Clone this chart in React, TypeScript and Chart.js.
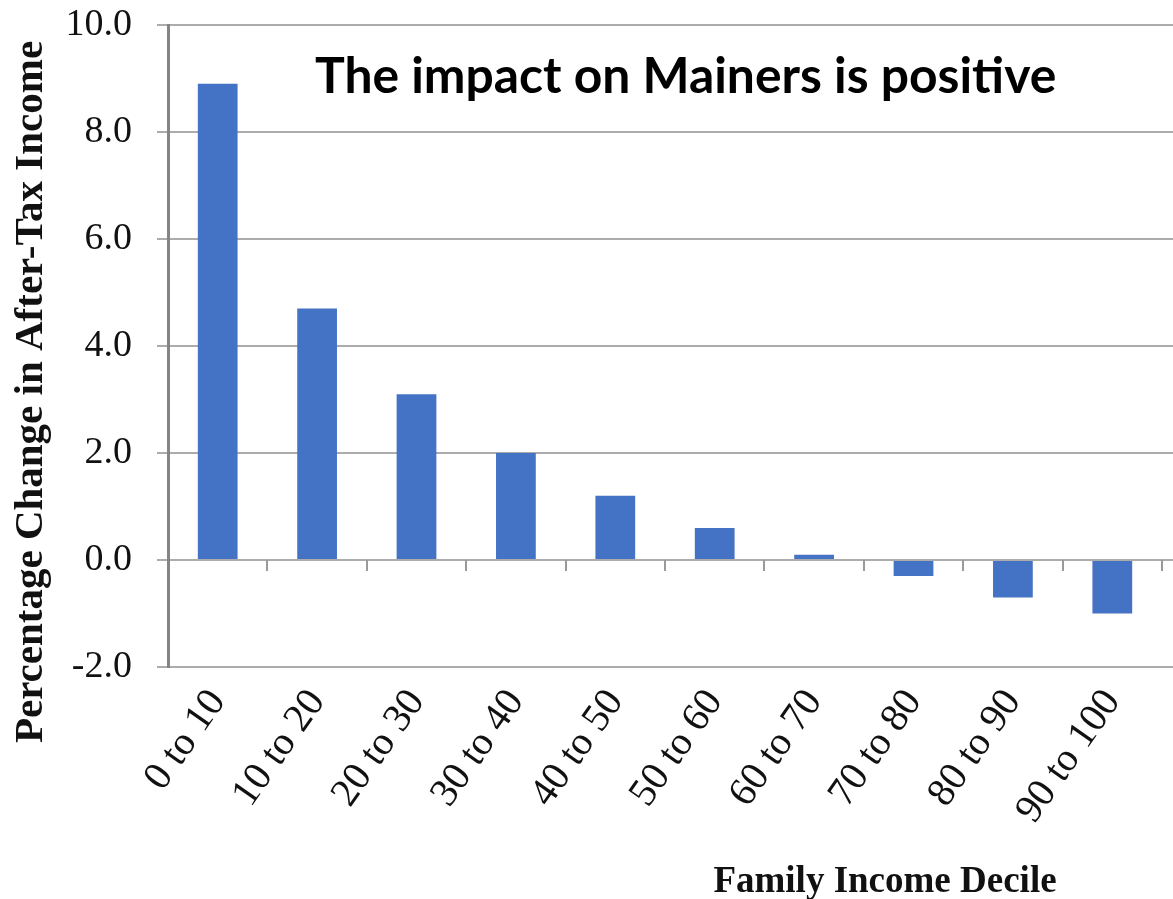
import React, { useEffect, useRef } from 'react';
import { Chart, registerables } from 'chart.js';

Chart.register(...registerables);

const categories = ['0 to 10', '10 to 20', '20 to 30', '30 to 40', '40 to 50', '50 to 60', '60 to 70', '70 to 80', '80 to 90', '90 to 100'];
const values = [8.9, 4.7, 3.1, 2.0, 1.2, 0.6, 0.1, -0.3, -0.7, -1.0];
const yTickValues = [-2, 0, 2, 4, 6, 8, 10];
const chartTitle = 'The impact on Mainers is positive';
const xTitle = 'Family Income Decile';
const yTitle = 'Percentage Change in After-Tax Income';

const GRID = '#acacac';
const AXIS = '#858585';
const BAR = '#4472C4';
const SERIF = '"Liberation Serif", "Times New Roman", serif';

const overlayPlugin = {
  id: 'overlay',
  afterDraw(chart: any) {
    const { ctx, chartArea, scales } = chart;
    const x = scales.x;
    const y = scales.y;
    ctx.save();
    // extend horizontal gridlines past the last category
    ctx.strokeStyle = GRID;
    ctx.lineWidth = 2;
    yTickValues.forEach((v) => {
      const py = Math.round(y.getPixelForValue(v));
      ctx.beginPath();
      ctx.moveTo(chartArea.right, py);
      ctx.lineTo(chart.width, py);
      ctx.stroke();
    });
    // tick marks on the zero line at category boundaries
    const y0 = Math.round(y.getPixelForValue(0));
    const n = categories.length;
    const w = (x.right - x.left) / n;
    ctx.strokeStyle = '#9a9a9a';
    for (let i = 1; i <= n; i++) {
      const px = Math.round(x.left + i * w);
      ctx.beginPath();
      ctx.moveTo(px, y0);
      ctx.lineTo(px, y0 + 11);
      ctx.stroke();
    }
    // chart title inside plot
    ctx.fillStyle = '#000';
    ctx.textAlign = 'left';
    ctx.textBaseline = 'alphabetic';
    ctx.font = 'bold 50px Lato';
    const tw = ctx.measureText(chartTitle).width;
    const fs = 50 * 742 / tw;
    ctx.font = `bold ${fs.toFixed(1)}px Lato`;
    ctx.fillText(chartTitle, chartArea.left + 147, chartArea.top + 68);
    // x axis title
    ctx.fillStyle = '#111';
    ctx.textAlign = 'center';
    ctx.font = `bold 37px ${SERIF}`;
    ctx.fillText(xTitle, 885, 892);
    // y axis title
    ctx.translate(42, 392);
    ctx.rotate(-Math.PI / 2);
    ctx.font = `bold 41px ${SERIF}`;
    ctx.fillText(yTitle, 0, 0);
    ctx.restore();
  },
};

export default function App() {
  const ref = useRef<HTMLCanvasElement | null>(null);
  useEffect(() => {
    if (!ref.current) return;
    const chart = new Chart(ref.current, {
      type: 'bar',
      data: {
        labels: categories,
        datasets: [
          {
            data: values,
            backgroundColor: BAR,
            borderWidth: 0,
            categoryPercentage: 1,
            barPercentage: 0.4,
          },
        ],
      },
      options: {
        animation: false,
        responsive: false,
        maintainAspectRatio: false,
        layout: { padding: { top: 25, right: 11, left: 0, bottom: 0 } },
        plugins: { legend: { display: false }, tooltip: { enabled: false }, title: { display: false } },
        scales: {
          x: {
            grid: { display: false, drawTicks: false },
            border: { display: false },
            ticks: {
              autoSkip: false,
              minRotation: 55,
              maxRotation: 55,
              padding: 14,
              color: '#111',
              font: { family: SERIF, size: 40 },
            },
            afterFit: (s: any) => {
              s.height = 232;
              s.paddingLeft = 0;
              s.paddingRight = 0;
            },
          },
          y: {
            min: -2,
            max: 10,
            ticks: {
              stepSize: 2,
              padding: 25,
              color: '#111',
              font: { family: SERIF, size: 38 },
              callback: (v: any) => Number(v).toFixed(1),
            },
            grid: { color: GRID, lineWidth: 2, tickLength: 11, drawTicks: true },
            border: { color: AXIS, width: 3 },
            afterFit: (s: any) => {
              s.width = 168;
              s.paddingTop = 0;
              s.paddingBottom = 0;
            },
          },
        },
      },
      plugins: [overlayPlugin],
    });
    return () => chart.destroy();
  }, []);
  return (
    <div style={{ position: 'fixed', left: 0, top: 0, width: 1173, height: 899, background: '#fff' }}>
      <canvas ref={ref} width={1173} height={899} style={{ width: 1173, height: 899 }} />
    </div>
  );
}
